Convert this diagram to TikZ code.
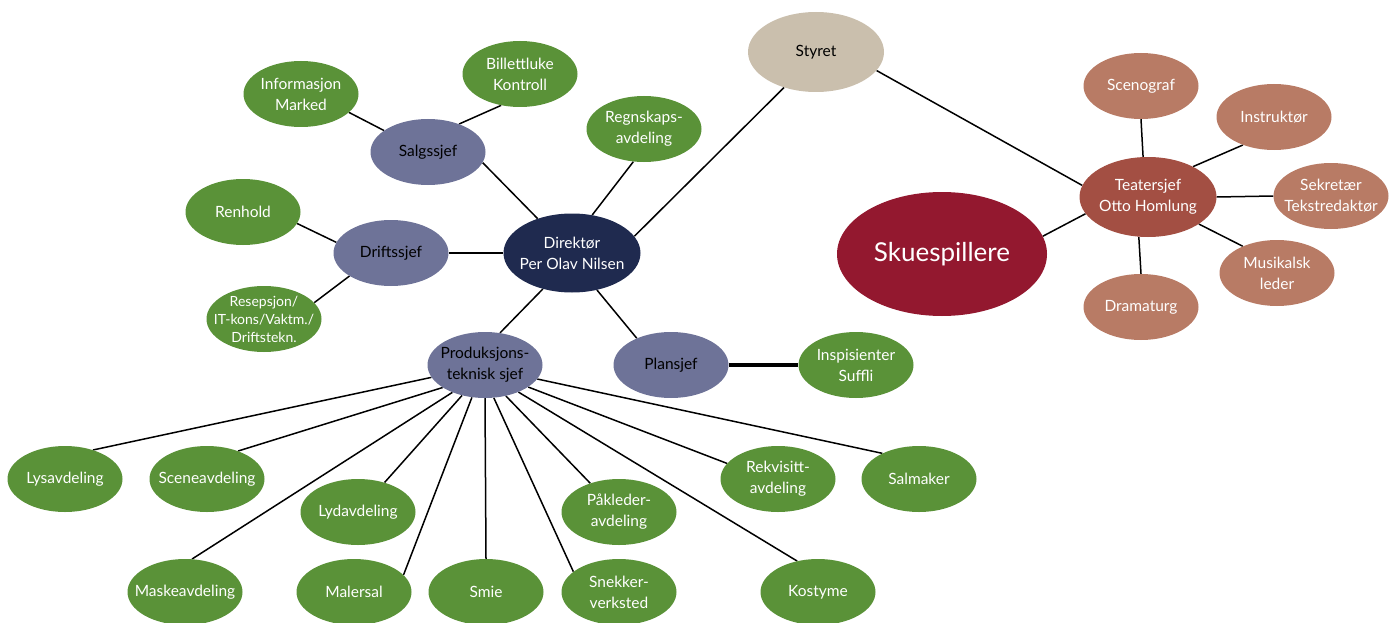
\documentclass[tikz,border=0pt]{standalone}
\usepackage{fontspec}
\setmainfont{Lato}
\usetikzlibrary{shapes.geometric,backgrounds}

\definecolor{avdgreen}{HTML}{5A9238}
\definecolor{sjefblue}{HTML}{6E7398}
\definecolor{dirnavy}{HTML}{1F2A4F}
\definecolor{styrebeige}{HTML}{CABFAD}
\definecolor{teaterred}{HTML}{A34F43}
\definecolor{kunstbrown}{HTML}{B87B65}
\definecolor{skuered}{HTML}{93182F}

\tikzset{
  boble/.style={ellipse, inner xsep=-16pt, inner ysep=0pt, align=center, font=\fontsize{15.5}{21}\selectfont},
  avd/.style={boble, fill=avdgreen, text=white, minimum width=115pt, minimum height=66pt},
  sjef/.style={boble, fill=sjefblue, text=black, minimum width=115pt, minimum height=66pt},
  kunst/.style={boble, fill=kunstbrown, text=white, minimum width=115pt, minimum height=66pt},
  linje/.style={draw=black, line width=1.5pt}
}

\begin{document}
\begin{tikzpicture}[x=1pt,y=-1pt]
\useasboundingbox (0,0) rectangle (1397,623);

\node [boble, fill=styrebeige, minimum width=136pt, minimum height=80pt] (styret) at (816,52) {Styret};
\node [boble, fill=dirnavy, text=white, minimum width=137pt, minimum height=79pt] (dir) at (572,253) {Direktør\\Per Olav Nilsen};

\node [sjef] (salg) at (428,152) {Salgssjef};
\node [sjef] (drift) at (391,253) {Driftssjef};
\node [sjef] (prod) at (485,365) {Produksjons-\\teknisk sjef};
\node [sjef] (plan) at (671,365) {Plansjef};

\node [avd] (regnskap) at (644,129) {Regnskaps-\\avdeling};
\node [avd] (billett) at (520,74) {Billettluke\\Kontroll};
\node [avd] (info) at (301,94) {Informasjon\\Marked};
\node [avd] (renhold) at (243,212) {Renhold};
\node [avd, inner xsep=-22pt, inner ysep=-4pt, font=\fontsize{14}{18}\selectfont] (resepsjon) at (264,319) {Resepsjon/\\IT-kons/Vaktm./\\Driftstekn.};
\node [avd] (inspis) at (856,365) {Inspisienter\\Suffli};

\node [avd] (lys) at (65,479) {Lysavdeling};
\node [avd] (scene) at (207,479) {Sceneavdeling};
\node [avd] (lyd) at (358,512) {Lydavdeling};
\node [avd] (maske) at (185,592) {Maskeavdeling};
\node [avd] (maler) at (354,592) {Malersal};
\node [avd] (smie) at (486,592) {Smie};
\node [avd] (snekker) at (619,592) {Snekker-\\verksted};
\node [avd] (paakleder) at (619,512) {Påkleder-\\avdeling};
\node [avd] (rekvisitt) at (778,479) {Rekvisitt-\\avdeling};
\node [avd] (salmaker) at (919,479) {Salmaker};
\node [avd] (kostyme) at (818,592) {Kostyme};

\node [boble, fill=skuered, text=white, minimum width=210pt, minimum height=124pt, font=\fontsize{26}{30}\selectfont] (skue) at (942,254) {Skuespillere};
\node [boble, fill=teaterred, text=white, minimum width=137pt, minimum height=80pt] (teater) at (1148,197) {Teatersjef\\Otto Homlung};
\node [kunst] (scenograf) at (1141,86) {Scenograf};
\node [kunst] (instruktor) at (1274,117) {Instruktør};
\node [kunst] (sekretar) at (1331,196) {Sekretær\\Tekstredaktør};
\node [kunst] (musikalsk) at (1277,273) {Musikalsk\\leder};
\node [kunst] (dramaturg) at (1141,307) {Dramaturg};

\begin{scope}[on background layer]
\foreach \a/\b in {styret.228/dir.15, styret.343/teater.170,
  dir.135/salg.349, dir.180/drift.0, dir.62/regnskap.252, dir.231/prod.65, dir.304/plan.142,
  salg.154/info.339, salg.42/billett.239, drift.169/renhold.348, drift.209/resepsjon.18,
  teater.195/skue.10, teater.97/scenograf.270, teater.34/instruktor.222, teater.0/sekretar.180,
  teater.332/musikalsk.142, teater.257/dramaturg.90,
  prod.193/lys.46, prod.208/scene.42, prod.220/maske.78, prod.233/lyd.48, prod.248/maler.19,
  prod.270/smie.90, prod.285/snekker.156, prod.304/paakleder.135, prod.321/kostyme.124,
  prod.333/rekvisitt.163, prod.345/salmaker.145}
  \draw [linje] (\a) -- (\b);
\draw [draw=black, line width=3.3pt] (plan.0) -- (inspis.180);
\end{scope}

\end{tikzpicture}
\end{document}
